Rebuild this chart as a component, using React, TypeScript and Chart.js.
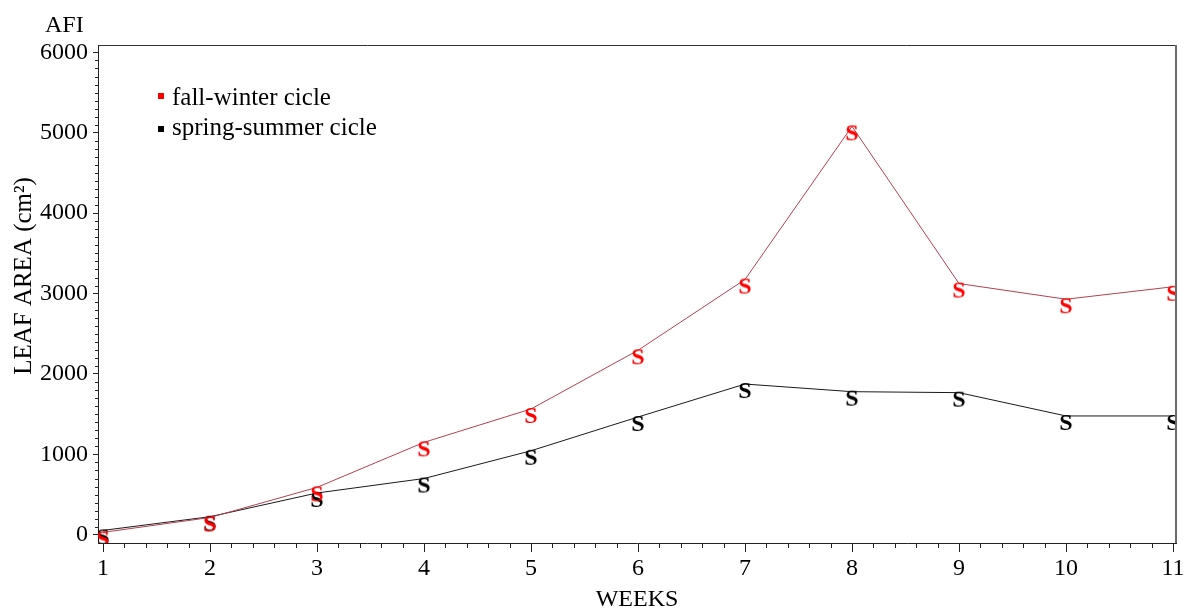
import React, { useEffect, useRef } from "react";
import { Chart, registerables } from "chart.js";

Chart.register(...registerables);

// ---------- data ----------
const weeks = [1, 2, 3, 4, 5, 6, 7, 8, 9, 10, 11];
const fallWinter = [30, 215, 590, 1150, 1565, 2295, 3175, 5080, 3125, 2930, 3085];
const springSummer = [55, 225, 520, 700, 1045, 1465, 1875, 1780, 1768, 1478, 1478];
const seriesLabels = ["fall-winter cicle", "spring-summer cicle"];
const yTickValues = [0, 1000, 2000, 3000, 4000, 5000, 6000];
const xTickValues = weeks;
const yMinorStep = 100;
const xMinorStep = 0.2;

const markerColors = ["#ff0000", "#000000"];
const lineColors = ["#b5404f", "#1a1a1a"];
const FONT = "'Liberation Serif', 'Times New Roman', serif";

function makeS(color: string): HTMLCanvasElement {
  const c = document.createElement("canvas");
  c.width = 24;
  c.height = 40;
  const ctx = c.getContext("2d")!;
  ctx.fillStyle = color;
  ctx.font = `bold 24px ${FONT}`;
  ctx.textAlign = "center";
  ctx.textBaseline = "alphabetic";
  ctx.fillText("S", 12, 34);
  return c;
}

const decorPlugin = {
  id: "decor",
  afterDraw(chart: any) {
    const { ctx, chartArea: a, scales } = chart;
    ctx.save();
    // frame top and right
    ctx.strokeStyle = "#333";
    ctx.lineWidth = 1;
    ctx.beginPath();
    ctx.moveTo(a.left, a.top + 0.5);
    ctx.lineTo(a.right, a.top + 0.5);
    ctx.stroke();
    ctx.strokeStyle = "#6a6a6a";
    ctx.lineWidth = 2;
    ctx.beginPath();
    ctx.moveTo(a.right, a.top);
    ctx.lineTo(a.right, a.bottom);
    ctx.stroke();

    // minor ticks
    ctx.strokeStyle = "#222";
    ctx.lineWidth = 1;
    const ys = scales.y;
    for (let v = yTickValues[0]; v <= yTickValues[yTickValues.length - 1]; v += yMinorStep) {
      if (v % 1000 === 0) continue;
      const py = Math.round(ys.getPixelForValue(v)) + 0.5;
      ctx.beginPath();
      ctx.moveTo(a.left - 3, py);
      ctx.lineTo(a.left, py);
      ctx.stroke();
    }
    const xs = scales.x;
    const x0 = xTickValues[0];
    const x1 = xTickValues[xTickValues.length - 1];
    for (let i = 0; x0 + i * xMinorStep <= x1 + 1e-6; i++) {
      if (i % 5 === 0) continue;
      const v = x0 + i * xMinorStep;
      const px = Math.round(xs.getPixelForValue(v)) + 0.5;
      ctx.beginPath();
      ctx.moveTo(px, a.bottom);
      ctx.lineTo(px, a.bottom + 5);
      ctx.stroke();
    }

    // AFI label
    ctx.fillStyle = "#000";
    ctx.font = `24px ${FONT}`;
    ctx.textAlign = "left";
    ctx.textBaseline = "alphabetic";
    ctx.fillText("AFI", 45, 32);

    // Y axis title
    ctx.save();
    ctx.translate(31, 276);
    ctx.rotate(-Math.PI / 2);
    ctx.textAlign = "center";
    ctx.font = `25px ${FONT}`;
    ctx.fillText("LEAF AREA (cm\u00B2)", 0, 0);
    ctx.restore();

    // legend
    ctx.font = `25px ${FONT}`;
    chart.data.datasets.forEach((ds: any, i: number) => {
      const baseY = a.top + 60 + i * 30;
      ctx.fillStyle = markerColors[i];
      ctx.fillRect(a.left + 60, baseY - 12 + i * 3, 6, 6);
      ctx.fillStyle = "#000";
      ctx.fillText(ds.label, a.left + 74, baseY);
    });
    ctx.restore();
  },
};

export default function App() {
  const ref = useRef<HTMLCanvasElement>(null);
  useEffect(() => {
    if (!ref.current) return;
    const sMarkers = markerColors.map(makeS);
    const series = [fallWinter, springSummer];
    const chart = new Chart(ref.current, {
      type: "line",
      data: {
        datasets: series.map((vals, i) => ({
          label: seriesLabels[i],
          data: weeks.map((w, j) => ({ x: w, y: vals[j] })),
          borderColor: lineColors[i],
          borderWidth: 1,
          pointStyle: sMarkers[i] as any,
          pointRadius: 10,
          fill: false,
          tension: 0,
        })),
      },
      options: {
        animation: false,
        responsive: true,
        maintainAspectRatio: false,
        layout: { padding: { top: 45, right: 9, left: 0, bottom: 0 } },
        plugins: { legend: { display: false }, tooltip: { enabled: false } },
        scales: {
          x: {
            type: "linear",
            min: 0.953,
            max: 11.028,
            afterBuildTicks: (s: any) => {
              s.ticks = xTickValues.map((v) => ({ value: v }));
            },
            afterFit: (s: any) => {
              s.height = 66;
            },
            grid: { drawOnChartArea: false, tickLength: 9, color: "#222", tickColor: "#222" },
            border: { display: true, color: "#222", width: 1 },
            ticks: {
              color: "#000",
              font: { family: FONT, size: 24 },
              padding: 2,
              maxRotation: 0,
              autoSkip: false,
              callback: (v: any) => String(v),
            },
            title: {
              display: true,
              text: "WEEKS",
              color: "#000",
              font: { family: FONT, size: 24, lineHeight: 0.8 },
              padding: { top: 0, bottom: 0 },
            },
          },
          y: {
            type: "linear",
            min: -102,
            max: 6092,
            afterBuildTicks: (s: any) => {
              s.ticks = yTickValues.map((v) => ({ value: v }));
            },
            afterFit: (s: any) => {
              s.width = 98;
            },
            grid: { drawOnChartArea: false, tickLength: 5, color: "#222", tickColor: "#222" },
            border: { display: true, color: "#222", width: 1 },
            ticks: {
              color: "#000",
              font: { family: FONT, size: 24 },
              padding: 5,
              autoSkip: false,
              callback: (v: any) => String(v),
            },
          },
        },
      },
      plugins: [decorPlugin],
    });
    return () => chart.destroy();
  }, []);
  return (
    <div style={{ position: "fixed", left: 0, top: 0, width: 1187, height: 609, background: "#fff" }}>
      <canvas ref={ref} />
    </div>
  );
}
